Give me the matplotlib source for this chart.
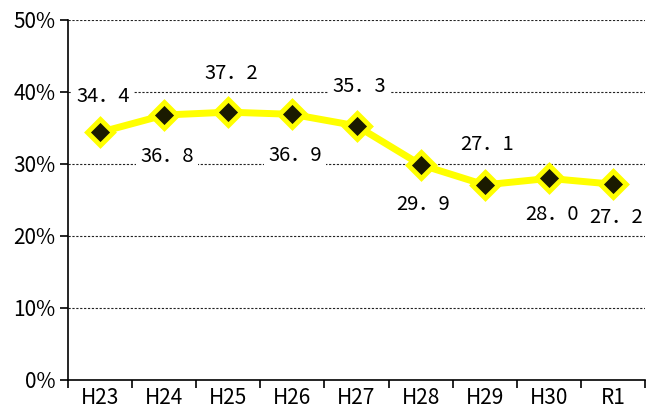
import matplotlib
matplotlib.use("Agg")
import matplotlib.pyplot as plt
import numpy as np

categories = ["H23", "H24", "H25", "H26", "H27", "H28", "H29", "H30", "R1"]
values = [34.4, 36.8, 37.2, 36.9, 35.3, 29.9, 27.1, 28.0, 27.2]
label_text = ["34．4", "36．8", "37．2", "36．9", "35．3", "29．9", "27．1", "28．0", "27．2"]
yticks = [0, 10, 20, 30, 40, 50]

# label offsets in points (positive = above)
label_offsets = [26, -30, 28, -30, 28, -29, 29, -26, -24]

plt.rcParams['font.family'] = ['Noto Sans CJK JP', 'DejaVu Sans']

fig = plt.figure(figsize=(6.56, 4.16), dpi=100)
ax = fig.add_axes([68/656, 36/416, 577/656, 360/416])

x = np.arange(len(categories))
ax.set_xlim(-0.5, len(categories) - 0.5)
ax.set_ylim(0, 50)

for yv in yticks[1:]:
    ax.axhline(yv, color="#222222", linestyle=(0, (2, 1.5)), linewidth=0.8, zorder=1)

ax.plot(x, values, color="#FFFF00", linewidth=5, marker="D", markersize=13,
        markerfacecolor="#1a1a00", markeredgecolor="#FFFF00", markeredgewidth=3.5,
        zorder=3)

for xi, v, t, off in zip(x, values, label_text, label_offsets):
    ax.annotate(t, (xi, v), xytext=(2, off), textcoords="offset points",
                ha="center", va="center", fontsize=14.5,
                bbox=dict(boxstyle="square,pad=0.2", facecolor="white", edgecolor="none"),
                zorder=4)

ax.set_yticks(yticks)
ax.set_yticklabels([f"{v}%" for v in yticks], fontsize=15)
ax.set_xticks(np.arange(-0.5, len(categories), 1.0))
ax.set_xticklabels([])
ax.set_xticks(x, minor=True)
ax.set_xticklabels(categories, minor=True, fontsize=15)
ax.tick_params(axis="x", which="minor", length=0, pad=5)
ax.tick_params(axis="x", which="major", length=6, width=1.2, direction="out")
ax.tick_params(axis="y", length=6, width=1.2, direction="out", pad=3)

for s in ["top", "right"]:
    ax.spines[s].set_visible(False)
for s in ["left", "bottom"]:
    ax.spines[s].set_linewidth(1.2)
    ax.spines[s].set_zorder(6)

fig.savefig("out.png", dpi=100)
